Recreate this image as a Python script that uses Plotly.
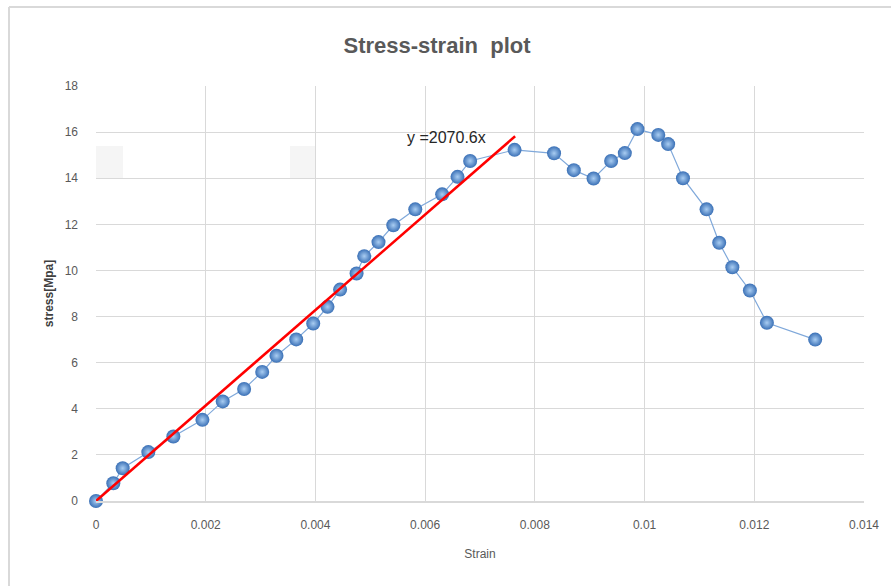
import plotly.graph_objects as go

strain = [0.0, 0.000316, 0.000486, 0.000954, 0.00141, 0.00194, 0.00231, 0.00270,
          0.00303, 0.00329, 0.00365, 0.00396, 0.00422, 0.00445, 0.00475, 0.00489,
          0.00515, 0.00542, 0.00582, 0.00631, 0.00659, 0.00682, 0.00763, 0.00835,
          0.00871, 0.00907, 0.00939, 0.00964, 0.00987, 0.01025, 0.01043, 0.01070,
          0.01113, 0.01136, 0.01160, 0.01192, 0.01223, 0.01311]
stress = [0.0, 0.77, 1.42, 2.12, 2.80, 3.52, 4.32, 4.86,
          5.60, 6.30, 7.01, 7.70, 8.42, 9.17, 9.87, 10.62,
          11.23, 11.96, 12.65, 13.30, 14.06, 14.75, 15.23, 15.08,
          14.35, 13.99, 14.75, 15.09, 16.13, 15.88, 15.48, 14.00,
          12.65, 11.20, 10.14, 9.13, 7.73, 7.00]

slope = 2070.6
fit_x = [0.0, 0.00764]
fit_y = [slope * v for v in fit_x]

x_ticks = [0, 0.002, 0.004, 0.006, 0.008, 0.01, 0.012, 0.014]
x_tick_labels = ["0", "0.002", "0.004", "0.006", "0.008", "0.01", "0.012", "0.014"]
y_ticks = [0, 2, 4, 6, 8, 10, 12, 14, 16, 18]

FONT = "Liberation Sans, Arial, sans-serif"
GRAY = "#595959"
GRID = "#d9d9d9"

W, H = 891, 586
L, R, T, B = 96, 27, 86, 85
PW, PH = W - L - R, H - T - B


def px_x(p):
    return (p - L) / PW


def px_y(p):
    return (H - B - p) / PH


fig = go.Figure()

# faint background artifacts
for x0, x1 in [(96, 123), (290, 316)]:
    fig.add_shape(type="rect", xref="paper", yref="paper",
                  x0=px_x(x0), x1=px_x(x1), y0=px_y(178), y1=px_y(146),
                  fillcolor="#f5f5f5", line=dict(width=0), layer="below")

fig.add_trace(go.Scatter(
    x=strain, y=stress, mode="lines+markers",
    line=dict(color="#7fa8da", width=1.2),
    marker=dict(size=14, color="#3a70b6",
                gradient=dict(type="radial", color="#a9cdf2"),
                line=dict(width=0)),
    cliponaxis=False, showlegend=False, hoverinfo="x+y"))

fig.add_trace(go.Scatter(
    x=fit_x, y=fit_y, mode="lines",
    line=dict(color="#ff0000", width=2.5),
    cliponaxis=False, showlegend=False))

fig.add_annotation(x=0.00639, y=15.78, text="y =2070.6x", showarrow=False,
                   font=dict(family=FONT, size=16, color="#262626"))

# outer chart frame (top and left edges)
fig.add_shape(type="line", xref="paper", yref="paper",
              x0=px_x(9), x1=px_x(W + 10), y0=px_y(7), y1=px_y(7),
              line=dict(color=GRID, width=2))
fig.add_shape(type="line", xref="paper", yref="paper",
              x0=px_x(9), x1=px_x(9), y0=px_y(7), y1=px_y(H + 10),
              line=dict(color=GRID, width=2))

fig.update_layout(
    width=W, height=H,
    margin=dict(l=L, r=R, t=T, b=B),
    paper_bgcolor="white", plot_bgcolor="white",
    title=dict(text="<b>Stress-strain  plot</b>", x=437 / W, xanchor="center",
               y=1 - 45 / H, yanchor="middle",
               font=dict(family=FONT, size=22, color=GRAY)),
    xaxis=dict(range=[0, 0.014], tickvals=x_ticks, ticktext=x_tick_labels,
               showgrid=True, gridcolor=GRID, gridwidth=1,
               showline=True, linecolor=GRID, linewidth=1.5, mirror=False,
               zeroline=False, ticks="", ticklen=0, ticklabelstandoff=12,
               tickfont=dict(family=FONT, size=12, color=GRAY),
               title=dict(text="Strain", font=dict(family=FONT, size=12, color=GRAY),
                          standoff=18)),
    yaxis=dict(range=[0, 18], tickvals=y_ticks,
               showgrid=True, gridcolor=GRID, gridwidth=1,
               showline=False, zeroline=True, zerolinecolor=GRID, zerolinewidth=1,
               ticks="", ticklen=0, ticklabelstandoff=17,
               tickfont=dict(family=FONT, size=12, color=GRAY),
               title=dict(text="<b>stress[Mpa]</b>",
                          font=dict(family=FONT, size=12, color="#404040"),
                          standoff=8)),
)

fig.write_html("out.html", config={"displayModeBar": False},
               post_script="document.body.style.margin='0px';")
